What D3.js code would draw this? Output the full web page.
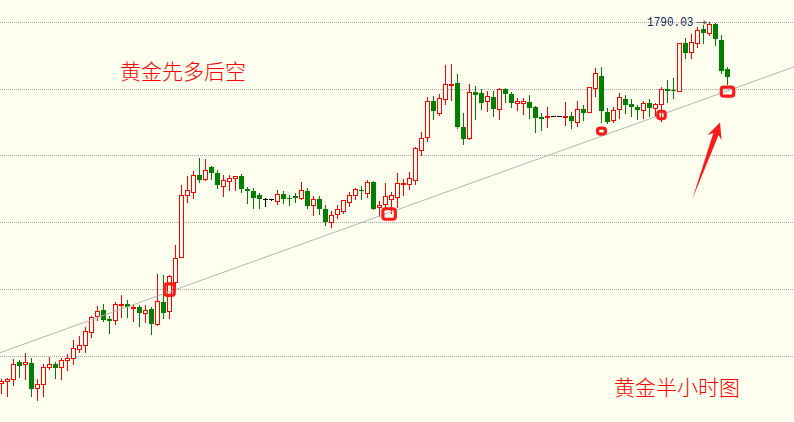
<!DOCTYPE html>
<html><head><meta charset="utf-8">
<script src="https://cdn.jsdelivr.net/npm/d3@7"></script>
<style>html,body{margin:0;padding:0;background:#fffff0;} svg{display:block;}</style>
</head><body>
<svg id="c" width="794" height="422"></svg>
<script>
// ---- DATA (gold, 30-minute candles) ----
const open = [
1762.98,1763.13,1763.28,1764.57,1764.40,1764.48,1762.61,1762.91,1764.18,1764.40,
1764.18,1764.70,1764.85,1765.52,1765.82,1766.80,1767.99,1768.44,1767.79,1767.70,
1768.86,1768.92,1768.67,1768.69,1768.27,1768.54,1767.40,1769.07,1768.41,1770.58,
1772.41,1777.05,1777.32,1778.57,1778.29,1779.17,1778.72,1777.77,1778.14,1778.32,
1778.47,1777.52,1777.37,1777.05,1776.77,1776.75,1776.65,1777.15,1776.85,1777.00,
1776.87,1777.37,1776.30,1776.77,1776.03,1775.08,1775.63,1775.90,1776.57,1777.05,
1777.43,1777.25,1778.05,1776.15,1776.42,1776.80,1776.95,1777.92,1777.92,1778.22,
1780.47,1781.39,1784.09,1783.23,1784.24,1785.33,1785.44,1782.14,1781.32,1784.78,
1784.71,1784.09,1784.41,1783.49,1785.01,1784.63,1783.98,1783.94,1784.04,1783.66,
1782.91,1782.91,1782.96,1782.96,1782.91,1782.99,1782.56,1783.49,1783.31,1785.06,
1785.98,1783.31,1782.69,1783.49,1784.24,1783.89,1783.68,1783.44,1783.94,1783.56,
1783.86,1784.99,1784.93,1784.86,1788.43,1787.80,1788.43,1789.48,1789.22,1789.87,
1788.68,1786.48];
const high = [
1763.28,1763.40,1764.80,1764.72,1765.23,1764.85,1763.30,1764.40,1764.93,1764.57,
1764.85,1765.17,1766.20,1766.52,1767.22,1768.04,1768.77,1768.92,1768.02,1769.09,
1769.61,1769.22,1768.92,1768.84,1768.84,1768.71,1771.16,1771.09,1771.09,1773.33,
1777.82,1778.50,1778.89,1779.87,1779.77,1779.25,1778.95,1778.57,1778.57,1778.50,
1778.65,1777.69,1777.62,1777.25,1776.87,1776.77,1777.45,1777.35,1777.07,1777.25,
1778.05,1777.60,1777.00,1776.98,1776.30,1775.88,1776.33,1776.68,1777.32,1777.62,
1777.77,1778.22,1778.12,1776.62,1777.95,1777.30,1778.70,1778.25,1778.77,1780.65,
1781.79,1784.39,1784.48,1784.63,1786.80,1786.88,1786.13,1783.19,1785.38,1785.23,
1784.99,1784.84,1784.86,1785.08,1785.11,1784.76,1784.33,1784.31,1784.56,1783.74,
1783.23,1783.66,1782.97,1782.97,1784.04,1783.31,1784.09,1783.81,1785.18,1786.56,
1786.63,1783.56,1783.68,1784.73,1784.56,1784.24,1783.81,1784.13,1784.24,1783.98,
1785.14,1785.68,1785.81,1788.47,1788.80,1789.12,1789.63,1789.80,1790.03,1789.98,
1789.05,1786.63];
const low = [
1762.28,1762.05,1762.85,1763.47,1763.28,1762.03,1761.73,1762.03,1764.05,1763.40,
1763.28,1763.98,1764.45,1765.32,1765.35,1766.47,1767.70,1767.64,1766.77,1767.40,
1767.97,1767.97,1767.67,1767.29,1767.59,1766.69,1767.34,1767.89,1767.89,1769.96,
1772.41,1776.57,1776.87,1778.07,1778.23,1778.25,1777.58,1777.00,1777.45,1777.45,
1777.30,1776.50,1776.08,1776.08,1776.27,1776.73,1776.38,1776.50,1776.33,1776.55,
1776.77,1776.08,1775.60,1775.67,1774.85,1774.70,1775.33,1775.70,1776.25,1776.80,
1776.77,1776.95,1776.00,1775.50,1776.08,1775.70,1776.20,1777.07,1777.55,1777.92,
1780.05,1781.09,1782.74,1783.04,1783.89,1784.19,1782.07,1780.91,1781.27,1782.76,
1783.51,1783.38,1783.01,1782.78,1784.04,1783.64,1783.44,1783.11,1782.86,1781.81,
1781.94,1782.19,1782.95,1782.95,1782.31,1782.11,1782.22,1782.69,1783.29,1784.48,
1782.56,1782.44,1782.56,1782.81,1783.23,1782.99,1782.74,1782.81,1782.99,1782.99,
1782.64,1784.06,1784.31,1784.86,1787.31,1787.31,1788.13,1788.43,1789.05,1788.30,
1786.23,1785.38];
const close = [
1763.15,1763.30,1764.40,1764.27,1764.57,1762.58,1762.91,1764.18,1764.40,1764.15,
1764.70,1764.87,1765.60,1765.82,1766.89,1767.92,1768.37,1767.74,1767.67,1768.89,
1768.92,1768.67,1768.71,1768.27,1768.47,1767.44,1769.14,1768.24,1771.01,1772.34,
1777.07,1777.45,1778.57,1778.22,1778.92,1778.70,1777.85,1778.17,1778.32,1778.47,
1777.49,1777.40,1776.87,1776.80,1776.77,1776.75,1777.15,1776.80,1776.80,1776.85,
1777.43,1776.27,1776.77,1776.03,1775.08,1775.55,1776.03,1776.68,1777.07,1777.52,
1777.37,1778.02,1776.05,1776.31,1777.00,1777.05,1777.95,1777.97,1778.32,1780.57,
1781.32,1784.09,1783.38,1784.31,1785.36,1785.38,1782.19,1781.29,1784.76,1784.58,
1783.98,1784.48,1783.53,1784.99,1784.61,1783.98,1784.09,1784.09,1783.61,1782.86,
1782.78,1782.99,1782.96,1782.96,1782.99,1782.64,1783.49,1783.23,1785.14,1786.18,
1783.38,1782.56,1783.44,1784.43,1783.81,1783.64,1783.44,1783.94,1783.61,1783.86,
1784.99,1784.88,1784.88,1788.43,1787.72,1788.50,1789.42,1789.22,1789.87,1788.73,
1786.38,1785.93];
const gridTicks = [1765,1770,1775,1780,1785,1790];
const trendIdx = [0,121], trendPrice = [1765.31,1784.87];
const markerIdx = [28,64.6,100,110,121];
const markerPrice = [1769.99,1775.65,1781.86,1783.06,1784.81];
const highLabel = "1790.03", highIdx = 118;
const titleText = "黄金先多后空", subText = "黄金半小时图";
const arrowTail = [115.13,1776.75], arrowTip = [119.75,1782.49];

// ---- DRAW ----
const W = 794, H = 422;
const svg = d3.select('#c');
const x = d3.scaleLinear().domain([0,121]).range([1.5,727.5]);
const y = d3.scaleLinear().domain([1765,1790]).range([356.3,22.3]);
svg.append('rect').attr('width',W).attr('height',H).attr('fill','#fffff0');

svg.append('g').selectAll('line').data(gridTicks).join('line')
  .attr('x1',0).attr('x2',W)
  .attr('y1',d=>Math.floor(y(d))+0.5).attr('y2',d=>Math.floor(y(d))+0.5)
  .attr('stroke','#a8a8a8').attr('stroke-width',1).attr('stroke-dasharray','1,1');

const data = open.map((o,i)=>({i,o,h:high[i],l:low[i],c:close[i]}));
const g = svg.append('g');
function ln(x1,y1,x2,y2,col){g.append('line').attr('x1',x1).attr('y1',y1).attr('x2',x2).attr('y2',y2).attr('stroke',col).attr('stroke-width',1);}
data.forEach(d=>{
  const cx = x(d.i);
  const yT = Math.round(y(Math.max(d.o,d.c))), yB = Math.round(y(Math.min(d.o,d.c)));
  const yH = Math.round(y(d.h)), yL = Math.round(y(d.l));
  if (d.c > d.o) {
    const col = '#ff0000';
    const top = yT+0.5, bot = Math.max(yB,yT+1)+0.5;
    if (yH < top) ln(cx,yH,cx,top,col);
    if (yL+1 > bot) ln(cx,bot,cx,yL+1,col);
    g.append('rect').attr('x',cx-2).attr('y',top).attr('width',4).attr('height',bot-top)
      .attr('fill','#fffff0').attr('stroke',col).attr('stroke-width',1);
  } else if (d.c < d.o) {
    const col = '#008000';
    ln(cx,yH,cx,yL+1,col);
    g.append('rect').attr('x',cx-2.5).attr('y',yT).attr('width',5).attr('height',Math.max(1,yB-yT)).attr('fill',col);
  } else {
    const col = '#000000';
    if (yL>yH) ln(cx,yH,cx,yL+1,col);
    ln(cx-2.5,yT+0.5,cx+2.5,yT+0.5,col);
  }
});

// trend line, extended across the plot
const tx1 = x(trendIdx[0]), ty1 = y(trendPrice[0]), tx2 = x(trendIdx[1]), ty2 = y(trendPrice[1]);
const slope = (ty2-ty1)/(tx2-tx1);
svg.append('line').attr('x1',0).attr('y1',ty1-slope*tx1).attr('x2',W).attr('y2',ty1+slope*(W-tx1))
  .attr('stroke','#b4b4b4').attr('stroke-width',1);

// marker boxes
const boxW = [9.5,12.5,8,7.5,12.5], boxH = [11.5,10.5,6,7.5,9];
svg.append('g').selectAll('rect').data(markerIdx).join('rect')
  .attr('x',(d,k)=>x(d)-boxW[k]/2).attr('y',(d,k)=>y(markerPrice[k])-boxH[k]/2)
  .attr('width',(d,k)=>boxW[k]).attr('height',(d,k)=>boxH[k]).attr('rx',2.5)
  .attr('fill','none').attr('stroke','#ff1a1a').attr('stroke-width',3.2);

// high label
const hx = x(highIdx), hy = y(high[highIdx]);
svg.append('text').attr('x',hx-62.5).attr('y',hy+4.5)
  .attr('font-family','Liberation Mono, DejaVu Sans Mono, monospace').attr('font-size',13)
  .attr('textLength',46.5).attr('lengthAdjust','spacingAndGlyphs')
  .attr('fill','#14295a').text(highLabel);
svg.append('line').attr('x1',hx-13).attr('y1',Math.round(hy)+0.5).attr('x2',hx-3).attr('y2',Math.round(hy)+0.5)
  .attr('stroke','#707070').attr('stroke-width',1);
svg.append('path').attr('d',`M${hx-2},${Math.round(hy)+0.5} l-4,-2.5 l0,5 z`).attr('fill','#707070');

// red arrow
const S = [x(arrowTail[0]), y(arrowTail[1])], T = [x(arrowTip[0]), y(arrowTip[1])];
const dx = T[0]-S[0], dy = T[1]-S[1], len = Math.hypot(dx,dy);
const u = [dx/len, dy/len], n = [-u[1], u[0]];
const P = (a,b)=>[T[0]-u[0]*a+n[0]*b, T[1]-u[1]*a+n[1]*b];
const pts = [S, P(12,-2.8), P(16,-7.5), T, P(16,7.5), P(12,2.8)];
svg.append('path').attr('d','M'+pts.map(p=>p[0].toFixed(1)+','+p[1].toFixed(1)).join('L')+'Z').attr('fill','#ff1a1a');

// texts
svg.append('text').attr('x',120).attr('y',78.5).attr('font-family','Noto Sans CJK SC, sans-serif')
  .attr('font-size',21).attr('font-weight',300).attr('fill','#ff0000').text(titleText);
svg.append('text').attr('x',614).attr('y',395).attr('font-family','Noto Sans CJK SC, sans-serif')
  .attr('font-size',21).attr('font-weight',300).attr('fill','#ff0000').text(subText);
</script>
</body></html>
